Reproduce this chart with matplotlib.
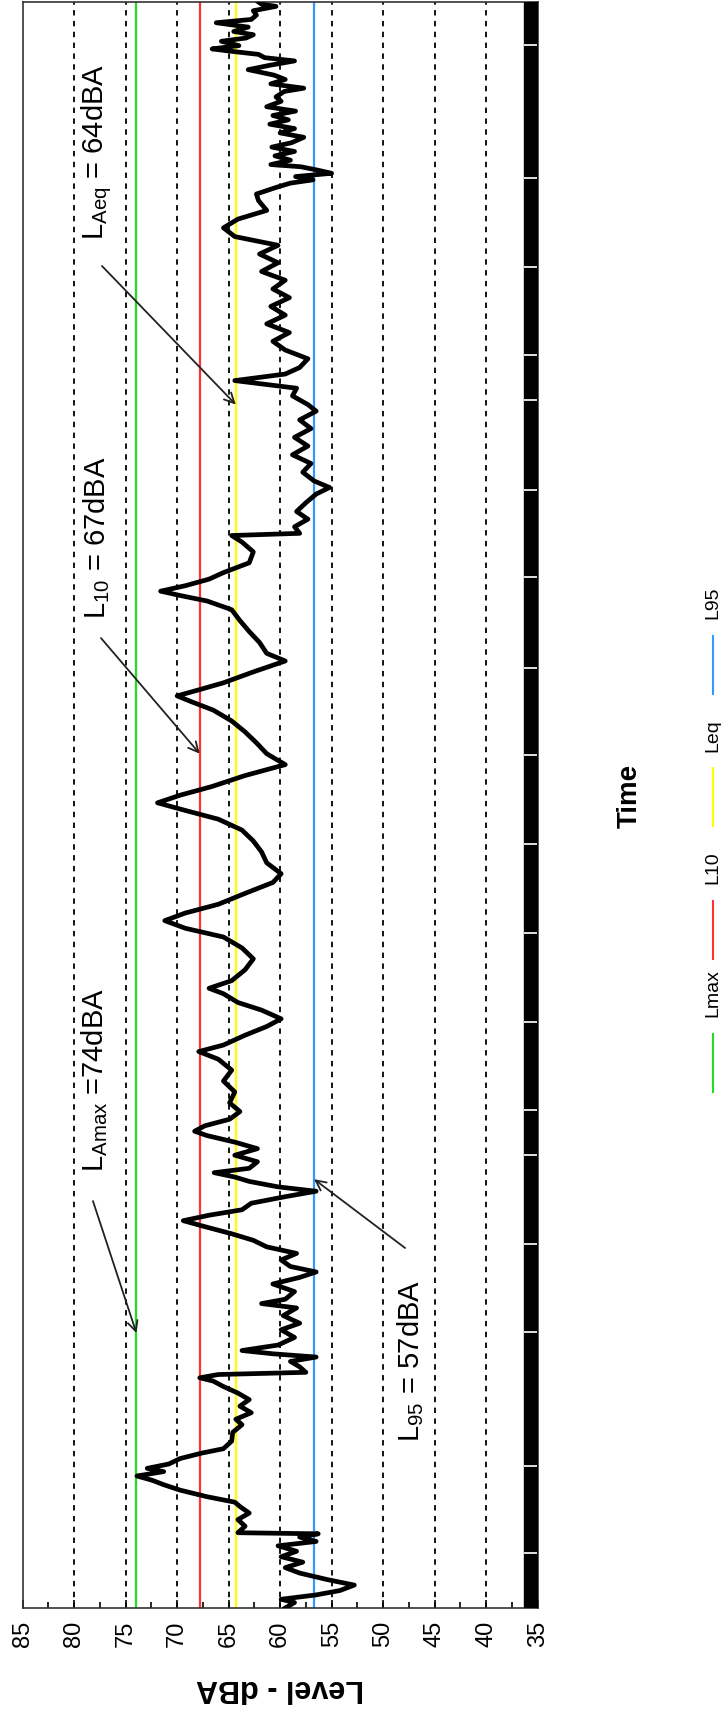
import numpy as np
import matplotlib.pyplot as plt
from matplotlib.lines import Line2D

plt.rcParams['font.family'] = ['Liberation Sans', 'DejaVu Sans']
plt.rcParams['mathtext.fontset'] = 'custom'
plt.rcParams['mathtext.rm'] = 'Liberation Sans'
plt.rcParams['mathtext.it'] = 'Liberation Sans:italic'

# elapsed time (sample units, start of survey at the bottom) and measured level (dBA)
elapsed = [0, 5, 8, 12, 16, 21, 26, 32, 37, 42, 47, 52, 57, 61, 65, 68, 69, 75, 81, 87,
           93, 97, 102, 108, 113, 117, 121, 125, 128, 132, 137, 142, 146, 153, 161, 168,
           173, 179, 185, 191, 197, 203, 208, 211, 214, 216, 221, 226, 230, 233, 236, 241,
           248, 255, 261, 268, 275, 279, 283, 290, 297, 303, 308, 313, 319, 325, 331, 337,
           343, 349, 355, 360, 365, 371, 377, 382, 386, 391, 395, 399, 403, 409, 415, 421,
           427, 433, 437, 442, 448, 455, 463, 473, 483, 493, 503, 510, 516, 525, 533, 540,
           548, 555, 563, 568, 575, 585, 595, 605, 615, 623, 630, 637, 645, 655, 665, 673,
           683, 693, 703, 713, 723, 731, 738, 745, 753, 763, 773, 783, 793, 803, 813, 823,
           831, 836, 841, 848, 858, 868, 875, 885, 895, 905, 915, 923, 928, 932, 937, 943,
           949, 958, 968, 977, 983, 985, 991, 998, 1005, 1013, 1021, 1027, 1033, 1041, 1049,
           1057, 1065, 1073, 1081, 1089, 1097, 1103, 1111, 1118, 1125, 1131, 1137, 1145,
           1153, 1161, 1169, 1177, 1185, 1193, 1201, 1209, 1217, 1225, 1233, 1241, 1249,
           1257, 1265, 1273, 1281, 1290, 1296, 1302, 1306, 1309, 1312, 1315, 1318, 1321,
           1323, 1327, 1331, 1335, 1339, 1343, 1348, 1352, 1356, 1360, 1364, 1368, 1372,
           1376, 1381, 1385, 1390, 1393, 1397, 1401, 1405, 1410, 1414, 1418, 1421, 1424,
           1427, 1429, 1432, 1436, 1439, 1442, 1445, 1449, 1453, 1456, 1460, 1464, 1468,
           1470, 1472]
level = [59.5, 58.6, 59.9, 56.5, 54.2, 52.8, 55.4, 58.1, 59.5, 57.8, 59.9, 58.4, 60.2, 56.5,
         58.1, 56.3, 64.1, 63.4, 64.1, 63.0, 63.9, 64.4, 67.1, 69.7, 71.3, 72.4, 73.9, 71.3,
         72.9, 70.8, 69.7, 67.6, 65.5, 64.7, 64.6, 63.7, 64.3, 62.8, 63.9, 63.0, 64.1, 65.5,
         66.5, 67.8, 66.0, 57.5, 58.1, 59.0, 56.5, 60.7, 63.7, 60.2, 58.6, 59.9, 58.1, 59.7,
         58.4, 61.8, 59.5, 58.6, 60.7, 58.1, 56.5, 59.0, 59.9, 58.4, 61.3, 62.6, 64.7, 67.1,
         69.4, 66.9, 63.7, 62.8, 59.5, 56.5, 60.2, 63.0, 64.4, 66.4, 63.0, 62.2, 64.4, 62.2,
         64.4, 67.1, 68.3, 67.3, 64.9, 63.9, 64.9, 64.4, 65.5, 64.7, 66.0, 67.9, 65.5, 63.4,
         61.3, 59.9, 61.8, 64.1, 65.5, 66.9, 64.7, 63.4, 62.6, 63.7, 65.5, 69.2, 71.2, 69.2,
         66.0, 63.4, 60.7, 59.9, 61.3, 61.8, 62.6, 63.7, 66.0, 69.2, 71.9, 69.7, 66.6, 63.4,
         59.5, 61.3, 62.3, 63.4, 64.7, 66.5, 68.7, 70.0, 68.1, 65.5, 62.6, 59.5, 61.3, 62.0,
         63.0, 63.9, 64.7, 67.1, 69.7, 71.6, 69.2, 66.9, 65.5, 63.0, 62.6, 63.7, 64.7, 58.1,
         58.6, 57.3, 58.4, 57.5, 56.5, 55.2, 56.7, 57.8, 57.0, 58.8, 57.3, 58.6, 57.0, 58.1,
         56.5, 57.3, 58.8, 58.4, 64.4, 59.5, 58.1, 57.3, 59.5, 60.7, 59.1, 61.3, 59.5, 60.9,
         59.1, 60.7, 59.5, 61.8, 60.2, 62.0, 60.2, 64.4, 65.5, 64.1, 61.3, 62.1, 62.3, 60.4,
         59.0, 56.8, 58.5, 55.0, 56.4, 58.0, 60.9, 59.0, 60.5, 58.6, 60.8, 58.9, 57.7, 60.0,
         58.6, 61.0, 59.2, 60.7, 58.5, 61.3, 59.9, 60.4, 59.6, 57.7, 60.9, 59.5, 60.6, 63.1,
         61.0, 58.6, 61.5, 62.1, 64.9, 66.6, 64.0, 65.7, 63.3, 62.6, 64.5, 63.1, 66.2, 62.8,
         62.3, 62.6, 60.4, 61.8, 62.1]

stat_names = ['Lmax', 'L10', 'Leq', 'L95']
stat_values = [73.95, 67.8, 64.3, 56.7]
stat_colors = ['#22dd22', '#ff3333', '#ffff00', '#3399ff']

level_ticks = np.arange(35, 90, 5)
level_minor = np.arange(37.5, 85, 5)
grid_levels = np.arange(40, 85, 5)
time_ticks = [50, 130, 253, 334, 415, 456, 537, 619, 700, 782, 862, 945, 1025, 1107, 1148,
              1229, 1311, 1433]

fig = plt.figure(figsize=(7.21, 17.11), dpi=100)
ax = fig.add_axes([0.03135, 0.0602, 0.7143, 0.93863])

for g in grid_levels:
    ax.axvline(g, color='black', ls=(0, (3, 3)), lw=1.3, zorder=1)

for val, col in zip(stat_values, stat_colors):
    ax.axvline(val, color=col, lw=1.6, zorder=2)

ax.plot(level, elapsed, color='black', lw=3.4, zorder=3)

# black band along the time axis with white tick marks
ax.axvspan(36.35, 35, color='black', zorder=4)
ax.hlines(time_ticks, 36.3, 35.05, colors='#e0e0e0', lw=1.4, zorder=5)

ax.set_xlim(85, 35)
ax.set_ylim(0, 1472)
ax.set_yticks([])
ax.set_xticks(level_ticks)
ax.set_xticks(level_minor, minor=True)
ax.set_xticklabels([str(v) for v in level_ticks], rotation=90, fontsize=17)
ax.tick_params(axis='x', which='major', direction='in', length=6, width=1.2, pad=9)
ax.tick_params(axis='x', which='minor', direction='in', length=4, width=1.2)
for sp in ax.spines.values():
    sp.set_linewidth(1.2)
    sp.set_color('#333333')

# annotations
notes = [
    (r'L$_{\mathrm{Amax}}$ =74dBA', (77.97, 484), (78.17, 373), (73.95, 252)),
    (r'L$_{\mathrm{10}}$ = 67dBA', (77.8, 981), (77.39, 889), (67.8, 783)),
    (r'L$_{\mathrm{Aeq}}$ = 64dBA', (77.8, 1335), (77.29, 1230), (64.3, 1103)),
    (r'L$_{\mathrm{95}}$ = 57dBA', (47.37, 226), (47.87, 330), (56.7, 393)),
]
for txt, pos, tail, tip in notes:
    ax.text(pos[0], pos[1], txt, rotation=90, fontsize=21, ha='center', va='center',
            zorder=6)
    ax.annotate('', xy=tip, xytext=tail,
                arrowprops=dict(arrowstyle='->', color='#222222', lw=1.3,
                                mutation_scale=18, shrinkA=0, shrinkB=0), zorder=6)

fig.text(280 / 721, 1 - 1688 / 1711, 'Level - dBA', rotation=180, fontsize=22,
         fontweight='bold', ha='center', va='center')
fig.text(630 / 721, 1 - 796 / 1711, 'Time', rotation=90, fontsize=20,
         fontweight='bold', ha='center', va='center')

# legend, drawn as a column (handles below their labels)
leg_x = 713 / 721
handle_mid = [1063, 930, 797, 665]
label_mid = [993, 868, 736, 603]
for name, col, hm, lm in zip(stat_names, stat_colors, handle_mid, label_mid):
    y0 = 1 - (hm + 29) / 1711
    y1 = 1 - (hm - 29) / 1711
    fig.add_artist(Line2D([leg_x, leg_x], [y0, y1], color=col, lw=1.5))
    fig.text(leg_x, 1 - lm / 1711, name, rotation=90, fontsize=14, ha='center',
             va='center')

fig.savefig('out.png', dpi=100)
